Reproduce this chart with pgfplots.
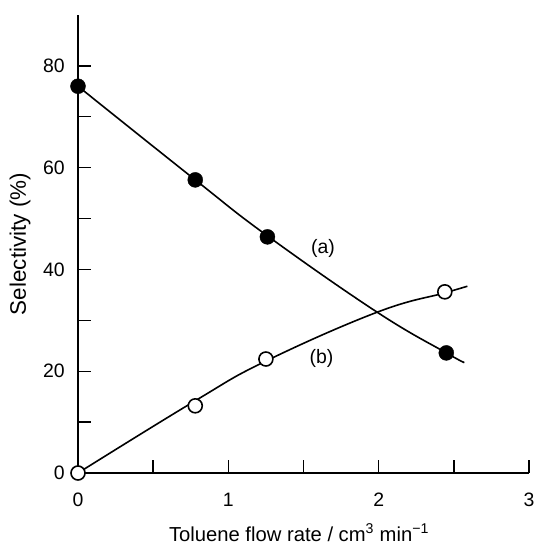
\documentclass[border=0pt]{standalone}
\usepackage{pgfplots}
\pgfplotsset{compat=1.18}
\usepackage{fontspec}
\setmainfont{Liberation Sans}
\newcommand{\bigf}{\fontsize{19.5}{23}\selectfont}
\newcommand{\xlf}{\fontsize{20.3}{24}\selectfont}
\newcommand{\ylf}{\fontsize{22.5}{26}\selectfont}
\begin{document}
\begin{tikzpicture}[font=\bigf]
\begin{axis}[
  scale only axis,
  width=451bp, height=458bp,
  xmin=0, xmax=3, ymin=0, ymax=90,
  axis lines=left,
  axis line style={-, line width=1.6bp, black},
  clip=false,
  xtick={0,1,2,3}, minor xtick={0.5,1.5,2.5},
  ytick={0,20,40,60,80}, minor ytick={10,30,50,70},
  tick align=inside,
  major tick length=13bp, minor tick length=13bp,
  every tick/.style={black, line width=1.4bp},
  /pgf/number format/assume math mode=true,
  tick label style={font=\bigf},
  xticklabel style={anchor=north, inner sep=0pt, yshift=-20bp},
  yticklabel style={anchor=east, inner sep=0pt, xshift=-13bp},
  xlabel={Toluene flow rate / cm\textsuperscript{3} min\textsuperscript{\textminus1}},
  ylabel={Selectivity (\%)},
  every axis x label/.style={at={(axis description cs:0.49,-0.149)}, anchor=base, inner sep=0pt, font=\xlf},
  every axis y label/.style={at={(axis description cs:-0.1286,0.5)}, rotate=90, anchor=center, font=\ylf},
]
\coordinate (O) at (rel axis cs:0,0);
% curve (a)
\addplot[black, line width=1.6bp, smooth, tension=0.7] coordinates {
  (0,76) (0.78,57.6) (1.26,46.6) (1.99,31.6) (2.45,23.6) (2.57,21.7)};
% curve (b)
\addplot[black, line width=1.6bp, smooth, tension=0.7] coordinates {
  (0,0) (0.78,14.2) (1.25,22.0) (1.99,31.6) (2.44,35.4) (2.59,36.7)};
% data (a)
\addplot[only marks, mark=*, mark size=7.5bp, mark options={fill=black, draw=black}] coordinates {
  (0,76) (0.78,57.6) (1.26,46.4) (2.45,23.6)};
% data (b)
\addplot[only marks, mark=*, mark size=7bp, mark options={fill=white, draw=black, line width=1.6bp}] coordinates {
  (0,0) (0.78,13.2) (1.25,22.4) (2.44,35.6)};
\node[font=\bigf] at (axis cs:1.63,44.2) {(a)};
\node[font=\bigf] at (axis cs:1.62,22.6) {(b)};
\end{axis}
\pgfresetboundingbox
\path[use as bounding box] ([shift={(-78bp,-71bp)}]O) rectangle ([shift={(460bp,473bp)}]O);
\end{tikzpicture}
\end{document}
